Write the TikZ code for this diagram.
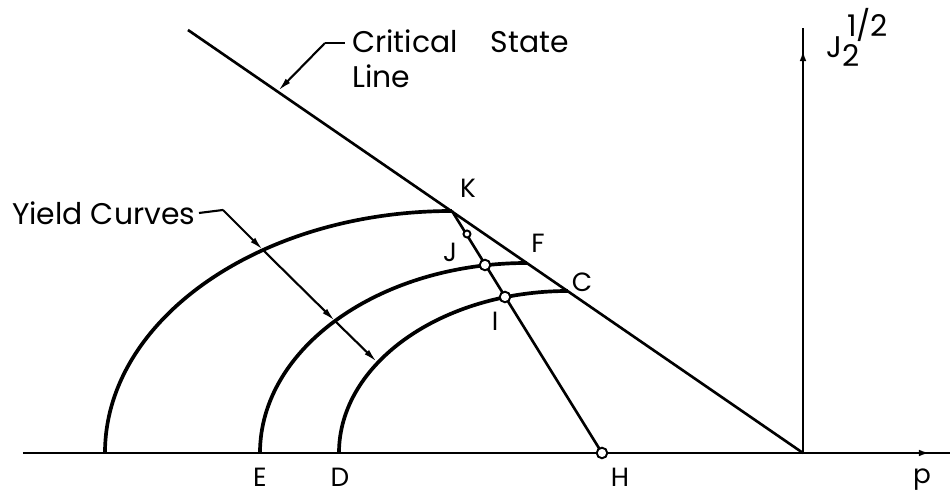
\documentclass[tikz,border=0pt]{standalone}
\usepackage{fontspec}
\setmainfont{Poppins}
\usetikzlibrary{arrows.meta}

\begin{document}
\begin{tikzpicture}[x=0.02cm,y=0.02cm,
  yield/.style={line width=2.1pt},
  csl/.style={line width=1.5pt},
  axis/.style={line width=1.7pt},
  leader/.style={line width=1.2pt},
  tip/.style={-{Latex[length=8pt,width=3.5pt]}},
  dot/.style={circle,draw,fill=white,line width=1.1pt,inner sep=0pt,minimum size=6pt},
  lbl/.style={font=\fontsize{15}{17}\selectfont,inner sep=1pt},
  big/.style={font=\fontsize{17}{20}\selectfont}]
\useasboundingbox (-803,-43) rectangle (147,453);
\coordinate (O) at (0,0);
\coordinate (pL) at (-780,0);
\coordinate (pR) at (147,0);
\coordinate (pT) at (130,0);
\coordinate (q) at (0,425);
\coordinate (qT) at (0,406);
\draw[axis] (pL) -- (pR);
\draw[axis,tip] (O) -- (pT);
\draw[axis] (O) -- (q);
\draw[axis,tip] (O) -- (qT);
% critical state line
\coordinate (A) at (-615,423);
\draw[csl] (A) -- (O);
% yield curves
\coordinate (G) at (-698,0);
\coordinate (E) at (-543,0);
\coordinate (D) at (-464,0);
\coordinate (H) at (-201,0);
\coordinate (K) at (-351,242);
\draw[yield] (G) arc[start angle=180,end angle=90,x radius=347,y radius=242];
\draw[yield] (E) arc[start angle=180,end angle=90,x radius=267,y radius=190];
\draw[yield] (D) arc[start angle=180,end angle=90,x radius=229,y radius=162];
\draw[csl] (K) -- (H);
\node[dot,minimum size=4pt] (dK) at (-336,219) {};
\node[dot] (dJ) at (-318,188) {};
\node[dot] (dI) at (-298,156) {};
\node[dot] (dH) at (H) {};
% labels
\foreach \n/\x/\y in {K/-335/265,F/-265/210,C/-221/171,J/-353/201,I/-308/132,E/-543/-24,D/-463/-24,H/-183/-24,p/119/-27}
  \node[lbl] (l\n) at (\x,\y) {\n};
\node[big,anchor=base west,inner sep=0pt] (jax) at (23,395) {J\rlap{\raisebox{-0.55ex}{2}}\raisebox{1.3ex}{\,1/2}};
\node[big,anchor=east,inner sep=2pt] (yc) at (-604,240) {Yield Curves};
\coordinate (yc1) at (-580,243);
\coordinate (t1) at (-540,203);
\coordinate (t2) at (-468,132);
\coordinate (t3) at (-426,91);
\draw[leader] (yc.east) -- (yc1);
\draw[leader,tip] (yc1) -- (t1);
\draw[leader,tip] (t1) -- (t2);
\draw[leader,tip] (t2) -- (t3);
\node[big,align=left,anchor=north west,inner sep=0pt] (cs) at (-451,424) {Critical\hspace{1.1em}State\\Line};
\coordinate (c0) at (-458,410);
\coordinate (c1) at (-478,410);
\coordinate (c2) at (-525,362);
\draw[leader] (c0) -- (c1);
\draw[leader,tip] (c1) -- (c2);
\end{tikzpicture}
\end{document}
